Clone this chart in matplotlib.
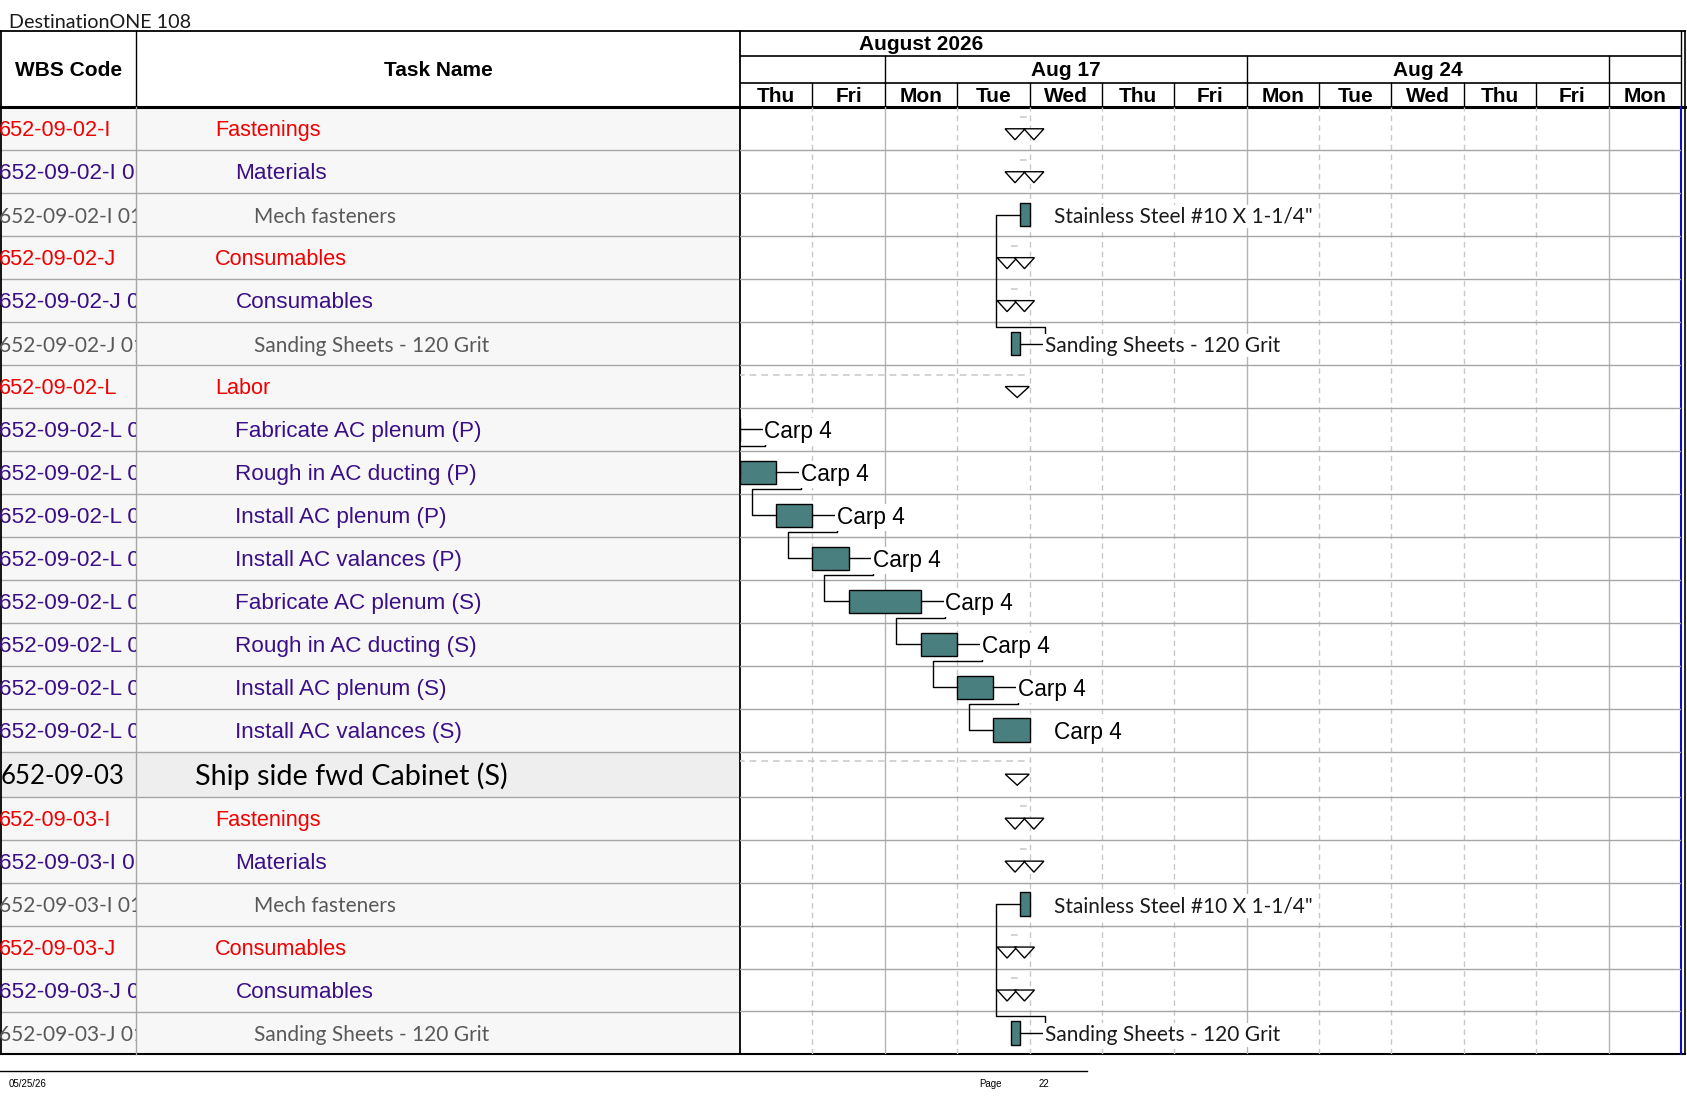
import matplotlib
matplotlib.use("Agg")
import matplotlib.pyplot as plt
from matplotlib.patches import Rectangle, Polygon
import numpy as np

# ---- schedule data (x in working days, 0 = start of Thu Aug 13) ----
title = "DestinationONE 108"
wbs_codes = [
    "652-09-02-I", "652-09-02-I 01", "652-09-02-I 01.01",
    "652-09-02-J", "652-09-02-J 01", "652-09-02-J 01.01",
    "652-09-02-L", "652-09-02-L 01", "652-09-02-L 02", "652-09-02-L 03",
    "652-09-02-L 04", "652-09-02-L 05", "652-09-02-L 06", "652-09-02-L 07",
    "652-09-02-L 08", "652-09-03",
    "652-09-03-I", "652-09-03-I 01", "652-09-03-I 01.01",
    "652-09-03-J", "652-09-03-J 01", "652-09-03-J 01.01",
]
task_names = [
    "Fastenings", "Materials", "Mech fasteners",
    "Consumables", "Consumables", "Sanding Sheets - 120 Grit",
    "Labor", "Fabricate AC plenum (P)", "Rough in AC ducting (P)",
    "Install AC plenum (P)", "Install AC valances (P)", "Fabricate AC plenum (S)",
    "Rough in AC ducting (S)", "Install AC plenum (S)", "Install AC valances (S)",
    "Ship side fwd Cabinet (S)",
    "Fastenings", "Materials", "Mech fasteners",
    "Consumables", "Consumables", "Sanding Sheets - 120 Grit",
]
levels = [1, 2, 3, 1, 2, 3, 1, 2, 2, 2, 2, 2, 2, 2, 2, 0, 1, 2, 3, 1, 2, 3]

bar_rows = [2, 5, 7, 8, 9, 10, 11, 12, 13, 14, 18, 21]
bar_start = [3.875, 3.75, -1.0, 0.0, 0.5, 1.0, 1.5, 2.5, 3.0, 3.5, 3.875, 3.75]
bar_end = [4.0, 3.875, 0.0, 0.5, 1.0, 1.5, 2.5, 3.0, 3.5, 4.0, 4.0, 3.875]
bar_labels = ['Stainless Steel #10 X 1-1/4"', "Sanding Sheets - 120 Grit",
              "Carp 4", "Carp 4", "Carp 4", "Carp 4", "Carp 4", "Carp 4",
              "Carp 4", "Carp 4",
              'Stainless Steel #10 X 1-1/4"', "Sanding Sheets - 120 Grit"]

# finish-to-start links (predecessor row, successor row)
links = [(7, 8), (8, 9), (9, 10), (10, 11), (11, 12), (12, 13), (13, 14),
         (5, 2), (21, 18)]

sum_rows = [0, 1, 3, 4, 6, 15, 16, 17, 19, 20]
sum_start = [3.875, 3.875, 3.75, 3.75, -1.0, -1.0, 3.875, 3.875, 3.75, 3.75]
sum_end = [4.0, 4.0, 3.875, 3.875, 4.0, 4.0, 4.0, 4.0, 3.875, 3.875]
sum_marks = [[3.80, 4.06], [3.80, 4.06], [3.69, 3.93], [3.69, 3.93], [3.83],
             [3.83], [3.80, 4.06], [3.80, 4.06], [3.69, 3.93], [3.69, 3.93]]

days = ["Thu", "Fri", "Mon", "Tue", "Wed", "Thu", "Fri",
        "Mon", "Tue", "Wed", "Thu", "Fri", "Mon"]
week_labels = ["Aug 10", "Aug 17", "Aug 24", "Aug 31"]
week_start = [-3, 2, 7, 12]
week_end = [2, 7, 12, 17]
month_label = "August 2026"
month_start, month_end = -8, 13
footer_date = "05/25/26"
page_no = "22"

# ---- layout (pixels) ----
W, H = 1687, 1097
TOP, HDR = 30.7, 107.3
Y_M, Y_W = 56.3, 82.7
X_WBS, X_CH, X_R, X_OUT = 136.4, 740.0, 1681.0, 1685.0
row_h, big_h = 42.96, 45.0
heights = np.array([big_h if l == 0 else row_h for l in levels])
edges = HDR + np.concatenate([[0], np.cumsum(heights)])
BOT = edges[-1]
centers = (edges[:-1] + edges[1:]) / 2
ndays = len(days)
pxd = (X_R - X_CH) / ndays
gap = 24.5 / pxd
DY = 2.0  # text nudge so caps sit on the row centre

ARIAL = "Liberation Sans"
CAL = "Lato"
RED, PURPLE, GRAY = "#f00000", "#3a0f87", "#595959"
TEAL = "#4a7f80"
GRID = "#a6a6a6"

fig = plt.figure(figsize=(W / 100, H / 100), dpi=100)
base = fig.add_axes([0, 0, 1, 1])
base.set_xlim(0, W)
base.set_ylim(H, 0)
base.axis("off")

# table backgrounds
for i, lvl in enumerate(levels):
    fc = "#eeeeee" if lvl == 0 else "#f7f7f7"
    base.add_patch(Rectangle((0, edges[i]), X_CH, heights[i], fc=fc, ec="none"))
for e in edges[1:-1]:
    base.plot([0, X_CH], [e, e], color=GRID, lw=1)

base.text(8.6, 22.0, title, fontsize=14.2, family=CAL,
          va="center", ha="left", color="#1a1a1a")
base.text(X_WBS / 2, (TOP + HDR) / 2 + DY, "WBS Code", fontsize=15,
          family=ARIAL, weight="bold", ha="center", va="center")
base.text((X_WBS + X_CH) / 2, (TOP + HDR) / 2 + DY, "Task Name", fontsize=15,
          family=ARIAL, weight="bold", ha="center", va="center")

name_x = {0: 194.7, 1: 215.0, 2: 235.4, 3: 254.5}
styles = {0: (CAL, 20.7, "black"), 1: (ARIAL, 15.6, RED),
          2: (ARIAL, 16.2, PURPLE), 3: (CAL, 15, GRAY)}
for i, (name, lvl) in enumerate(zip(task_names, levels)):
    fam, fs, col = styles[lvl]
    base.text(name_x[lvl], centers[i] + DY, name, family=fam, fontsize=fs,
              color=col, va="center", ha="left")

# frame lines
base.plot([0, X_OUT], [TOP, TOP], color="black", lw=1.3)
base.plot([0, X_OUT], [HDR, HDR], color="black", lw=2.2)
base.plot([0, X_OUT], [BOT, BOT], color="black", lw=1.5)
base.plot([0.7, 0.7], [TOP, BOT], color="black", lw=1.3)
base.plot([X_WBS, X_WBS], [TOP, HDR], color="black", lw=1)
base.plot([X_WBS, X_WBS], [HDR, BOT], color=GRID, lw=1)
base.plot([X_CH, X_CH], [TOP, BOT], color="black", lw=1.3)
base.plot([X_R, X_R], [TOP, HDR], color="black", lw=1)
base.plot([X_R, X_R], [HDR, BOT], color="#1010c0", lw=1.5)
base.plot([X_OUT, X_OUT], [TOP, BOT], color="black", lw=1.2)

# footer
base.plot([0, 1087], [1071, 1071], color="black", lw=1)
base.text(8.6, 1084, footer_date, fontsize=7, family=ARIAL, va="center")
base.text(979, 1084, "Page", fontsize=7, family=ARIAL, va="center")
base.text(1039, 1084, page_no, fontsize=7, family=ARIAL, va="center")

# WBS column (clipped)
wx = fig.add_axes([0, 1 - BOT / H, X_WBS / W, (BOT - HDR) / H])
wx.set_xlim(0, X_WBS)
wx.set_ylim(BOT, HDR)
wx.axis("off")
for i, (code, lvl) in enumerate(zip(wbs_codes, levels)):
    fam, fs, col = styles[lvl]
    if lvl == 0:
        x0, fs = 1, 18.5
    else:
        x0 = -1
    wx.text(x0, centers[i] + DY, code, family=fam, fontsize=fs, color=col,
            va="center", ha="left", clip_on=True)

# ---- Gantt area ----
ax = fig.add_axes([X_CH / W, 1 - BOT / H, (X_R - X_CH) / W, (BOT - HDR) / H])
ax.set_xlim(0, ndays)
ax.set_ylim(BOT, HDR)
ax.axis("off")

for d in range(1, ndays):
    if days[d] == "Mon":
        ax.axvline(d, color="#b4b4b4", lw=1, zorder=1)
    else:
        ax.axvline(d, color="#c8c8c8", lw=1, ls=(0, (4, 3)), zorder=1)
for e in edges[1:-1]:
    ax.axhline(e, color=GRID, lw=1, zorder=1)

bi = {r: k for k, r in enumerate(bar_rows)}
for k, r in enumerate(bar_rows):
    ax.barh(centers[r], bar_end[k] - bar_start[k], left=bar_start[k],
            height=23.5, color=TEAL, edgecolor="black", lw=1, zorder=4)
    lab = bar_labels[k]
    if lab.startswith("Carp"):
        fam, fs, col = ARIAL, 16.3, "black"
    else:
        fam, fs, col = CAL, 15, "#1a1a1a"
    ax.text(bar_end[k] + gap, centers[r] + DY, lab, family=fam,
            fontsize=fs, color=col, va="center", ha="left", zorder=5.5,
            bbox=dict(boxstyle="square,pad=0.08", fc="white", ec="none"))

for p, s in links:
    kp, ks = bi[p], bi[s]
    x0 = bar_end[kp]
    x1 = x0 + gap
    x3 = bar_start[ks]
    x2 = x3 - gap
    yt = edges[p + 1] - 5 if s > p else edges[p] + 5
    ax.plot([x0, x1, x1, x2, x2, x3],
            [centers[p], centers[p], yt, yt, centers[s], centers[s]],
            color="black", lw=1, zorder=5)

for k, r in enumerate(sum_rows):
    ax.plot([sum_start[k], sum_end[k]], [edges[r] + 9.5] * 2, color="#cccccc",
            lw=1.2, ls=(0, (4, 3)), zorder=2)
    wpx = 24 if len(sum_marks[k]) == 1 else 20
    hw = wpx / 2 / pxd
    c = centers[r]
    for m in sum_marks[k]:
        ax.add_patch(Polygon([(m - hw, c), (m + hw, c), (m, c + 11)],
                             closed=True, fc="white", ec="black", lw=1,
                             zorder=6))

# ---- timescale header ----
hx = fig.add_axes([X_CH / W, 1 - HDR / H, (X_R - X_CH) / W, (HDR - TOP) / H])
hx.set_xlim(0, ndays)
hx.set_ylim(HDR, TOP)
hx.axis("off")
hx.axhline(Y_M, color="black", lw=1.2)
hx.axhline(Y_W, color="black", lw=1.2)
for i, d in enumerate(days):
    hx.text(i + 0.5, (Y_W + HDR) / 2 + 1.2, d, family=ARIAL, fontsize=15,
            weight="bold", ha="center", va="center")
    if i > 0:
        hx.plot([i, i], [Y_W, HDR], color="black", lw=1)
for lab, ws, we in zip(week_labels, week_start, week_end):
    if 0 < ws < ndays:
        hx.plot([ws, ws], [Y_M, Y_W], color="black", lw=1)
    if 0 < (ws + we) / 2 < ndays:
        hx.text((ws + we) / 2, (Y_M + Y_W) / 2 + 1.2, lab, family=ARIAL,
                fontsize=15, weight="bold", ha="center", va="center")
hx.text((month_start + month_end) / 2, (TOP + Y_M) / 2 + 1.2, month_label,
        family=ARIAL, fontsize=15, weight="bold", ha="center", va="center")

fig.savefig("out.png", dpi=100)
